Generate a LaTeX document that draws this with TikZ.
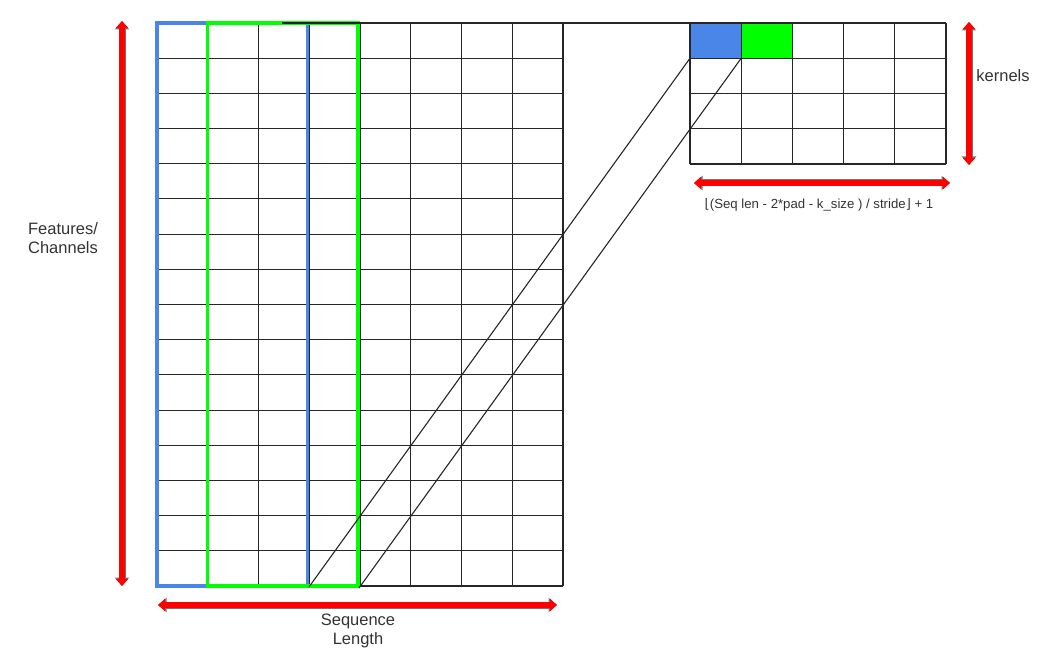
\documentclass[tikz,border=0pt]{standalone}
\usepackage{fontspec}
\setmainfont{Liberation Sans}
\newfontfamily\symfont{DejaVu Sans}
\usetikzlibrary{arrows.meta}

\definecolor{kblue}{HTML}{4A86E8}
\definecolor{kgreen}{HTML}{00FF00}
\definecolor{labelgray}{HTML}{333333}

\tikzset{
    cell/.style={draw=black!85, line width=1.1pt},
    dimarrow/.style={red, line width=5.5pt,
        {Triangle[length=7pt,width=12pt]}-{Triangle[length=7pt,width=12pt]},
        preaction={draw=black!55, line width=7pt,
            {Triangle[length=8.5pt,width=14pt]}-{Triangle[length=8.5pt,width=14pt]}}},
    lbl/.style={text=labelgray, font=\fontsize{16.5}{19}\selectfont, align=center, inner sep=0pt}
}

\begin{document}
\begin{tikzpicture}[x=1pt, y=-1pt]

        \useasboundingbox (0,0) rectangle (1050,671);

        % input: features x sequence length
        \foreach \i in {0, 1, ..., 8} {
            \draw[cell] (157+\i*50.75, 23) -- ++ (0, 563);
        }
        \foreach \j in {0, 1, ..., 16} {
            \draw[cell] (157, 23+\j*35.1875) -- ++ (406, 0);
        }

        % output: kernels x positions
        \fill[kblue] (690, 23) rectangle (741.2, 58.25);
        \fill[kgreen] (741.2, 23) rectangle (792.4, 58.25);
        \foreach \i in {0, 1, ..., 5} {
            \draw[cell] (690+\i*51.2, 23) -- ++ (0, 141);
        }
        \foreach \j in {0, 1, ..., 4} {
            \draw[cell] (690, 23+\j*35.25) -- ++ (256, 0);
        }

        % kernel windows
        \draw[kblue, line width=3.2pt] (157, 23) rectangle (307.5, 586);
        \draw[kgreen, line width=3.2pt] (207.5, 23) rectangle (358, 586);

        \coordinate (topstart) at (282, 23);
        \coordinate (blueend) at (309, 587);
        \coordinate (greenend) at (359, 588);
        \coordinate (bluecell) at (690, 58.25);
        \coordinate (greencell) at (741.2, 58.25);
        \coordinate (outtop) at (690, 23);

        \draw[black!85, line width=1.1pt] (topstart) -- (outtop);
        \draw[black!85, line width=1.1pt] (blueend) -- (bluecell);
        \draw[black!85, line width=1.1pt] (greenend) -- (greencell);

        % dimensions
        \draw[dimarrow] (122, 21) -- (122, 586);
        \draw[dimarrow] (158, 605) -- (557, 605);
        \draw[dimarrow] (969, 22) -- (969, 165);
        \draw[dimarrow] (694, 183) -- (950, 183);

        \node[lbl] (features) at (63, 238) {Features/\\Channels};
        \node[lbl] (seqlen) at (358, 631) {Sequence\\Length};
        \node[lbl] (kernels) at (1003, 76) {kernels};
        \node[lbl, font=\fontsize{13.2}{15}\selectfont] (outlen) at (819, 205)
            {{\symfont ⌊}(Seq len - 2*pad - k\_size ) / stride{\symfont ⌋} + 1};
    \end{tikzpicture}
\end{document}
